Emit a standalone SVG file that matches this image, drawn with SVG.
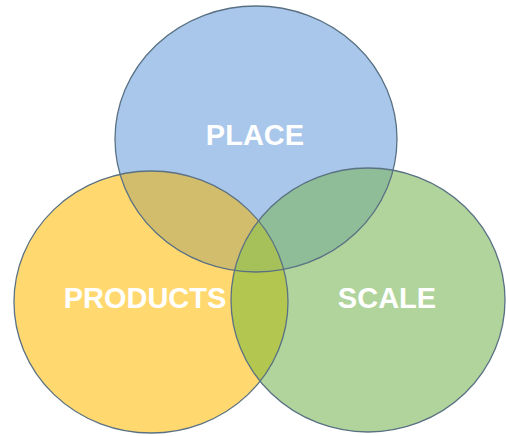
<svg xmlns="http://www.w3.org/2000/svg" width="506" height="436" viewBox="0 0 506 436">
  <defs>
    <clipPath id="clipPlace"><ellipse cx="256" cy="139" rx="141" ry="133"/></clipPath>
    <clipPath id="clipProducts"><ellipse cx="151" cy="302" rx="137" ry="131"/></clipPath>
    <clipPath id="clipScale"><ellipse cx="368" cy="300" rx="137" ry="132"/></clipPath>
  </defs>
  <style>
    .edge { fill: none; stroke: #5a7184; stroke-width: 1.3; }
    .lbl { font-family: "Liberation Sans", Arial, sans-serif; font-weight: bold; font-size: 29px; fill: #ffffff; text-anchor: middle; }
  </style>
  <rect width="506" height="436" fill="#ffffff"/>
  <g id="place-fill"><ellipse cx="256" cy="139" rx="141" ry="133" fill="#a8c7ea"/></g>
  <g id="products-fill"><ellipse cx="151" cy="302" rx="137" ry="131" fill="#ffd970"/></g>
  <g id="scale-fill"><ellipse cx="368" cy="300" rx="137" ry="132" fill="#b0d49c"/></g>
  <g id="overlaps">
    <g clip-path="url(#clipProducts)"><ellipse cx="256" cy="139" rx="141" ry="133" fill="#d2bd6c"/></g>
    <g clip-path="url(#clipScale)"><ellipse cx="256" cy="139" rx="141" ry="133" fill="#8fbd98"/></g>
    <g clip-path="url(#clipScale)"><ellipse cx="151" cy="302" rx="137" ry="131" fill="#b2c650"/></g>
    <g clip-path="url(#clipScale)"><g clip-path="url(#clipProducts)"><ellipse cx="256" cy="139" rx="141" ry="133" fill="#a7c15a"/></g></g>
  </g>
  <g id="outlines">
    <ellipse class="edge" cx="256" cy="139" rx="141" ry="133"/>
    <ellipse class="edge" cx="151" cy="302" rx="137" ry="131"/>
    <ellipse class="edge" cx="368" cy="300" rx="137" ry="132"/>
  </g>
  <g id="place"><text class="lbl" x="255" y="145">PLACE</text></g>
  <g id="products"><text class="lbl" x="145" y="308">PRODUCTS</text></g>
  <g id="scale"><text class="lbl" x="387" y="308">SCALE</text></g>
</svg>
